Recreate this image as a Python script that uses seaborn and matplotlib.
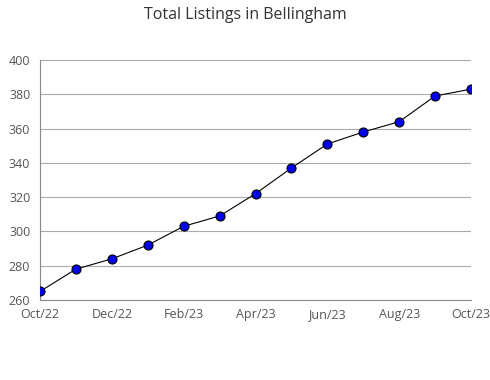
import matplotlib
matplotlib.use("Agg")
import matplotlib.pyplot as plt
import seaborn as sns
import pandas as pd
from matplotlib.ticker import MultipleLocator

months = ["Oct/22", "Nov/22", "Dec/22", "Jan/23", "Feb/23", "Mar/23", "Apr/23",
          "May/23", "Jun/23", "Jul/23", "Aug/23", "Sep/23", "Oct/23"]
listings = [265, 278, 284, 292, 303, 309, 322, 337, 351, 358, 364, 379, 383]
tick_labels = ["Oct/22", "Dec/22", "Feb/23", "Apr/23", "Jun/23", "Aug/23", "Oct/23"]

df = pd.DataFrame({"idx": range(len(months)), "month": months, "listings": listings})

sns.set_style("white")
plt.rcParams['font.family'] = ['Open Sans', 'DejaVu Sans']

fig = plt.figure(figsize=(4.9, 3.8), dpi=100)
ax = fig.add_axes([40/490, 1-300/380, (471-40)/490, (300-60)/380])

sns.lineplot(data=df, x="idx", y="listings", ax=ax, color="black", linewidth=0.8,
             marker="o", markersize=6.5, markerfacecolor="#0000ee",
             markeredgecolor="black", markeredgewidth=0.8, zorder=3)

ax.set_xlim(0, len(months) - 1)
ax.set_ylim(260, 400)
ax.set_xticks(range(0, len(months), 2))
ax.set_xticklabels(tick_labels)
ax.xaxis.set_minor_locator(MultipleLocator(1))
ax.yaxis.set_major_locator(MultipleLocator(20))
ax.yaxis.set_minor_locator(MultipleLocator(10))
ax.grid(axis="y", which="major", color="#aaaaaa", linewidth=0.8)
ax.set_axisbelow(True)
ax.set_xlabel("")
ax.set_ylabel("")

for s in ["top", "right"]:
    ax.spines[s].set_visible(False)
for s in ["left", "bottom"]:
    ax.spines[s].set_color("#888888")
    ax.spines[s].set_linewidth(0.8)

ax.tick_params(axis="both", which="both", direction="out", color="#888888",
               labelcolor="#555555", labelsize=9, width=0.8)
ax.tick_params(axis="both", which="major", length=5)
ax.tick_params(axis="both", which="minor", length=5)
ax.tick_params(axis="x", pad=1)
ax.tick_params(axis="y", pad=2)

fig.text(245/490, 1-15/380, "Total Listings in Bellingham", ha="center", va="center",
         fontsize=11.5, color="#333333")

fig.savefig("out.png", dpi=100)
